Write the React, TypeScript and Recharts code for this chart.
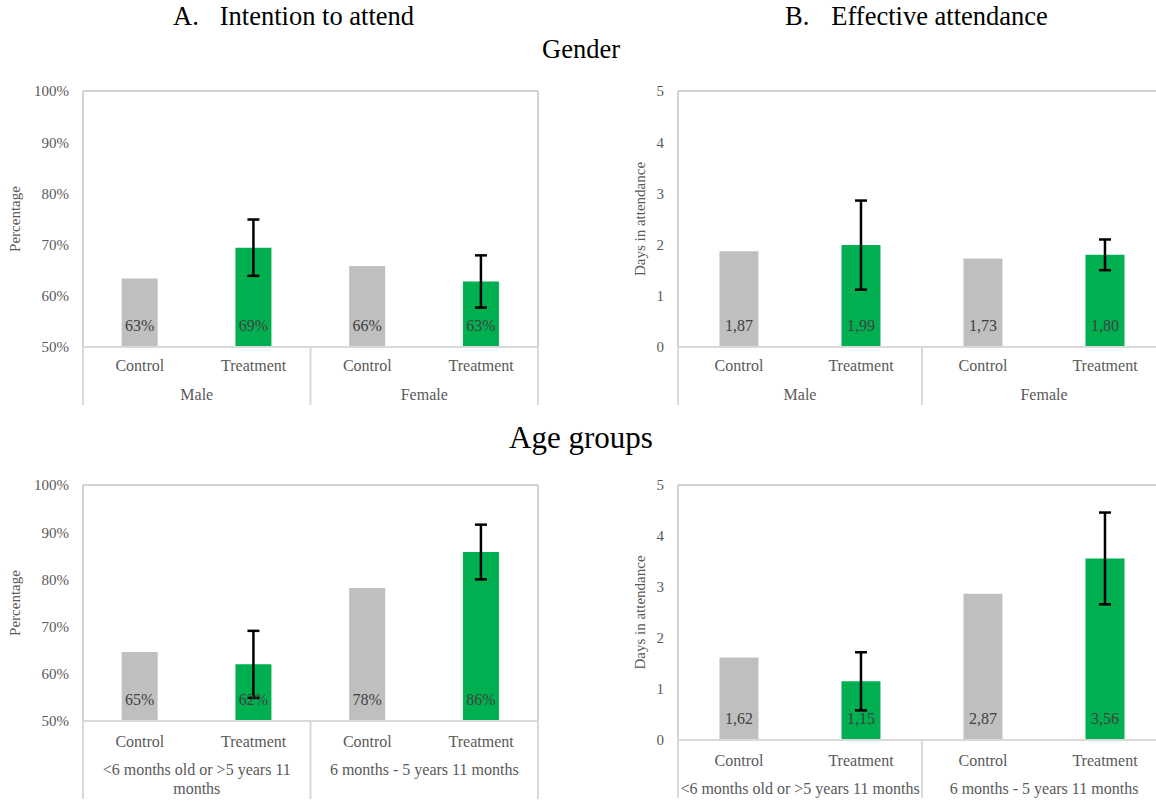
import React from 'react';
import {
  BarChart,
  Bar,
  Cell,
  XAxis,
  YAxis,
  ErrorBar,
  LabelList,
  Label,
  CartesianGrid,
  Text
} from 'recharts';

const categories = ['Control', 'Treatment', 'Control', 'Treatment'];
const genderGroups = ['Male', 'Female'];
const ageGroups = ['<6 months old or >5 years 11 months', '6 months - 5 years 11 months'];

// A. intention to attend (%)
const intentGender = [63.4, 69.4, 65.8, 62.8];
const intentGenderErr = [0, 5.5, 0, 5.1];
const intentAge = [64.6, 62.0, 78.2, 85.8];
const intentAgeErr = [0, 7.1, 0, 5.8];

// B. effective attendance (days)
const attendGender = [1.87, 1.99, 1.73, 1.8];
const attendGenderErr = [0, 0.87, 0, 0.3];
const attendAge = [1.62, 1.15, 2.87, 3.56];
const attendAgeErr = [0, 0.57, 0, 0.9];

const pctTicks = [50, 60, 70, 80, 90, 100];
const dayTicks = [0, 1, 2, 3, 4, 5];

const FONT = '"Liberation Serif", "Times New Roman", serif';
const GREY = '#bfbfbf';
const GREEN = '#00b050';
const AXIS_TEXT = '#595959';

const pctFmt = (v: number) => `${v}%`;
const pctLabel = (v: number) => `${Math.round(v)}%`;
const dayLabel = (v: number) => v.toFixed(2).replace('.', ',');

const makeRows = (values: number[], errs: number[]) =>
  categories.map((c, i) => ({ cat: c, value: values[i], err: errs[i] || null }));

const CatTick = (props: any) => {
  const { x, y, payload, index, groups, catDy, groupDy, lineLen } = props;
  const half = payload.offset;
  const last = categories.length - 1;
  return (
    <g>
      <text x={x} y={y + catDy} textAnchor="middle" dominantBaseline="central"
        fill={AXIS_TEXT} fontSize={16} fontFamily={FONT}>{payload.value}</text>
      {index % 2 === 0 && (
        <>
          <line x1={x - half} x2={x - half} y1={y} y2={y + lineLen} stroke="#d9d9d9" strokeWidth={2} />
          <Text x={x + half} y={y + groupDy} width={half * 4} textAnchor="middle" verticalAnchor="start"
            lineHeight={19} fill={AXIS_TEXT} fontSize={16} fontFamily={FONT} style={{ fontFamily: FONT, fontSize: 16 }}>
            {groups[index / 2]}
          </Text>
        </>
      )}
      {index === last && (
        <line x1={x + half} x2={x + half} y1={y} y2={y + lineLen} stroke="#d9d9d9" strokeWidth={2} />
      )}
    </g>
  );
};

type PanelProps = {
  rows: any[];
  groups: string[];
  left: number;
  top: number;
  width: number;
  height: number;
  marginRight: number;
  yWidth: number;
  xHeight: number;
  domain: [number, number];
  ticks: number[];
  tickFmt?: (v: number) => string;
  labelFmt: (v: number) => string;
  yLabel: string;
  yLabelOffset: number;
  catDy: number;
  groupDy: number;
  lineLen: number;
};

// plot frame: top edge + left/right edges of the plot area
const frameTop = ({ offset }: any) => [offset.top];
const frameSides = ({ offset }: any) => [offset.left, offset.left + offset.width];

const Panel = (p: PanelProps) => (
  <div style={{ position: 'absolute', left: p.left, top: p.top }}>
    <BarChart width={p.width} height={p.height} data={p.rows} barCategoryGap="34%"
      margin={{ top: 11, right: p.marginRight, bottom: 0, left: 0 }}>
      <CartesianGrid stroke="#c4c4c4" strokeWidth={1.5}
        horizontalCoordinatesGenerator={frameTop} verticalCoordinatesGenerator={frameSides} />
      <XAxis dataKey="cat" height={p.xHeight} tickLine={false} tickSize={0} tickMargin={0}
        axisLine={{ stroke: '#d9d9d9', strokeWidth: 2 }} interval={0}
        tick={<CatTick groups={p.groups} catDy={p.catDy} groupDy={p.groupDy} lineLen={p.lineLen} />} />
      <YAxis width={p.yWidth} domain={p.domain} ticks={p.ticks} allowDataOverflow
        axisLine={false} tickLine={false} tickSize={0} tickMargin={14}
        tickFormatter={p.tickFmt}
        tick={{ fill: AXIS_TEXT, fontSize: 15, fontFamily: FONT }}>
        <Label value={p.yLabel} angle={-90} position="insideLeft" offset={p.yLabelOffset}
          fill={AXIS_TEXT} fontSize={15} fontFamily={FONT} style={{ textAnchor: 'middle' }} />
      </YAxis>
      <Bar dataKey="value" isAnimationActive={false}>
        {p.rows.map((r, i) => (
          <Cell key={i} fill={r.cat === 'Control' ? GREY : GREEN} />
        ))}
        <LabelList dataKey="value" position="insideBottom" offset={16} formatter={p.labelFmt as any}
          fill="#404040" fontSize={16} fontFamily={FONT} />
        <ErrorBar dataKey="err" direction="y" width={6} stroke="#000" strokeWidth={2.5} isAnimationActive={false} />
      </Bar>
    </BarChart>
  </div>
);

const titleStyle: React.CSSProperties = {
  position: 'absolute',
  fontFamily: FONT,
  color: '#000',
  whiteSpace: 'pre',
  lineHeight: 1,
};

export default function App() {
  return (
    <div style={{ position: 'absolute', left: 0, top: 0, width: 1156, height: 803, overflow: 'hidden', background: '#fff' }}>
      <div style={{ ...titleStyle, left: 173, top: 3, fontSize: 26.5 }}>
        <span>A.</span><span style={{ marginLeft: 21 }}>Intention to attend</span>
      </div>
      <div style={{ ...titleStyle, left: 785, top: 3, fontSize: 26.5 }}>
        <span>B.</span><span style={{ marginLeft: 22 }}>Effective attendance</span>
      </div>
      <div style={{ ...titleStyle, left: 481, width: 200, textAlign: 'center', top: 36, fontSize: 26.5 }}>Gender</div>
      <div style={{ ...titleStyle, left: 431, width: 300, textAlign: 'center', top: 422, fontSize: 31 }}>Age groups</div>

      <Panel rows={makeRows(intentGender, intentGenderErr)} groups={genderGroups}
        left={0} top={80} width={560} height={327} marginRight={22} yWidth={83} xHeight={60}
        domain={[50, 100]} ticks={pctTicks} tickFmt={pctFmt} labelFmt={pctLabel}
        yLabel="Percentage" yLabelOffset={15} catDy={18} groupDy={42} lineLen={58} />
      <Panel rows={makeRows(attendGender, attendGenderErr)} groups={genderGroups}
        left={600} top={80} width={566} height={327} marginRight={0} yWidth={78} xHeight={60}
        domain={[0, 5]} ticks={dayTicks} labelFmt={dayLabel}
        yLabel="Days in attendance" yLabelOffset={40} catDy={18} groupDy={42} lineLen={58} />
      <Panel rows={makeRows(intentAge, intentAgeErr)} groups={ageGroups}
        left={0} top={474} width={560} height={329} marginRight={22} yWidth={83} xHeight={82}
        domain={[50, 100]} ticks={pctTicks} tickFmt={pctFmt} labelFmt={pctLabel}
        yLabel="Percentage" yLabelOffset={15} catDy={20} groupDy={43} lineLen={78} />
      <Panel rows={makeRows(attendAge, attendAgeErr)} groups={ageGroups}
        left={600} top={474} width={566} height={329} marginRight={0} yWidth={78} xHeight={63}
        domain={[0, 5]} ticks={dayTicks} labelFmt={dayLabel}
        yLabel="Days in attendance" yLabelOffset={40} catDy={20} groupDy={43} lineLen={58} />
    </div>
  );
}
